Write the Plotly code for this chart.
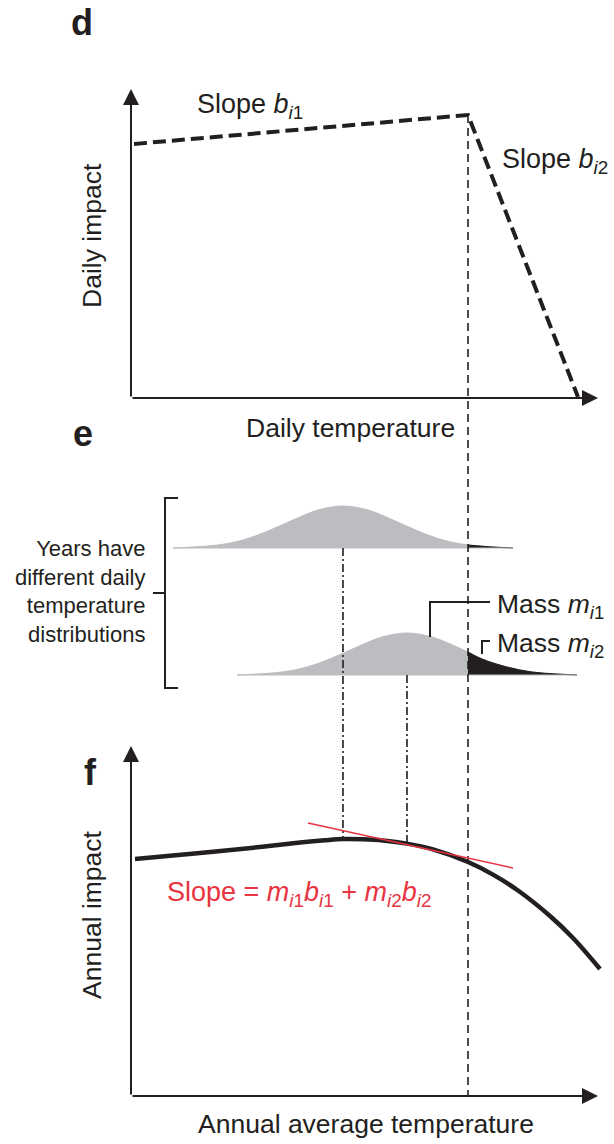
import plotly.graph_objects as go

# ---------------- data (chart units) ----------------
# Panel d: piecewise-linear daily impact function
daily_temp = [134, 468, 578]
daily_impact = [144, 115, 397]

# Panel e: two daily temperature distributions (x position, height above baseline)
dist1_x = [173, 193, 218, 243, 268, 293, 318, 343, 368, 393, 418, 443, 468, 493, 513]
dist1_h = [0, 1, 3, 8, 17, 28, 38, 42, 38, 28, 17, 8, 3, 1, 0]
dist1_base = 548
dist2_x = [237, 257, 282, 307, 332, 357, 382, 407, 432, 457, 468, 482, 507, 532, 557, 577]
dist2_h = [0, 1, 3, 8, 17, 28, 38, 42, 38, 28, 23, 16, 8, 3, 1, 0]
dist2_base = 675
threshold = 468
dist1_mean, dist2_mean = 343, 407

# Panel f: annual impact curve and tangent
annual_temp = [135, 200, 260, 300, 325, 343, 363, 383, 407, 433, 468, 493, 518, 550, 573, 600]
annual_impact = [859, 853, 847, 842.5, 840.2, 839, 839.3, 840.5, 843.6, 849.4, 862, 874.6, 890.5, 916, 938, 969]
tangent_x = [308, 513]
tangent_y = [823, 868]

# Axes of the three panels
d_axis = dict(x0=131, y0=398, xtip=598, ytip=89)
f_axis = dict(x0=131, y0=1096, xtip=598, ytip=746)

INK = "#231f20"
GRAY = "#bcbdc0"
RED = "#e8343f"
FONT = "Liberation Sans, Arial, sans-serif"

fig = go.Figure()

def line(x, y, color=INK, width=2, dash="solid", shape="linear"):
    fig.add_trace(go.Scatter(x=x, y=y, mode="lines", hoverinfo="skip",
                             line=dict(color=color, width=width, dash=dash, shape=shape)))

# ---- distributions (panel e) ----
def dist(xs, hs, base):
    ys = [base - h for h in hs]
    fig.add_trace(go.Scatter(x=[xs[0], xs[-1]], y=[base, base], mode="lines",
                             line=dict(width=0), hoverinfo="skip"))
    fig.add_trace(go.Scatter(x=xs, y=ys, mode="lines", fill="tonexty", fillcolor=GRAY,
                             line=dict(color=GRAY, width=1, shape="spline", smoothing=1.0),
                             hoverinfo="skip"))
    tx = [x for x in xs if x >= threshold]
    ty = [base - h for x, h in zip(xs, hs) if x >= threshold]
    fig.add_trace(go.Scatter(x=[tx[0], tx[-1]], y=[base, base], mode="lines",
                             line=dict(width=0), hoverinfo="skip"))
    fig.add_trace(go.Scatter(x=tx, y=ty, mode="lines", fill="tonexty", fillcolor=INK,
                             line=dict(color=INK, width=1, shape="spline", smoothing=1.0),
                             hoverinfo="skip"))
    line([xs[0], xs[-1]], [base, base], color=GRAY, width=1)

dist(dist1_x, dist1_h, dist1_base)
dist(dist2_x, dist2_h, dist2_base)

# ---- vertical guide lines ----
line([threshold, threshold], [daily_impact[1], f_axis["y0"]], width=1.6, dash="8px,5px")
line([dist1_mean, dist1_mean], [dist1_base, 839], width=1.6, dash="8px,3px,2px,3px")
line([dist2_mean, dist2_mean], [dist2_base, 843], width=1.6, dash="8px,3px,2px,3px")

# ---- panel d: daily impact function ----
line(daily_temp, daily_impact, width=4, dash="13px,6px")

# ---- panel f: annual impact curve + tangent ----
line(annual_temp, annual_impact, width=4.5, shape="spline")
line(tangent_x, tangent_y, color=RED, width=1.5)

# ---- bracket and leaders ----
line([178, 165, 165, 178], [498, 498, 688, 688], width=2)
line([153, 165], [593, 593], width=2)
line([430, 430, 490], [637, 602, 602], width=2)
line([482, 482, 490], [654, 641, 641], width=2)

# ---- axes with arrows ----
for ax in (d_axis, f_axis):
    for (tx, ty) in ((ax["x0"], ax["ytip"]), (ax["xtip"], ax["y0"])):
        fig.add_annotation(x=tx, y=ty, ax=ax["x0"], ay=ax["y0"], axref="x", ayref="y",
                           xref="x", yref="y", text="", showarrow=True, arrowhead=2,
                           arrowsize=1.6, arrowwidth=2, arrowcolor=INK, standoff=0)

def txt(x, y, s, size=27, color=INK, xanchor="left", angle=0, align="left"):
    fig.add_annotation(x=x, y=y, text=s, showarrow=False, xanchor=xanchor, yanchor="middle",
                       textangle=angle, align=align,
                       font=dict(family=FONT, size=size, color=color))

# panel letters
txt(82, 22, "<b>d</b>", size=36, xanchor="center")
txt(83, 433, "<b>e</b>", size=36, xanchor="center")
txt(90, 772, "<b>f</b>", size=36, xanchor="center")

# panel d labels
txt(195, 106, "Slope <i>b</i><sub><i>i</i>1</sub>")
txt(500, 161, "Slope <i>b</i><sub><i>i</i>2</sub>")
txt(92, 236, "Daily impact", size=26.5, xanchor="center", angle=-90)
txt(350, 428, "Daily temperature", size=26.5, xanchor="center")

# panel e labels
txt(147, 591, "Years have<br>different daily<br>temperature<br>distributions",
    size=22, xanchor="right", align="right")
txt(495, 606, "Mass <i>m</i><sub><i>i</i>1</sub>", size=26.5)
txt(495, 645, "Mass <i>m</i><sub><i>i</i>2</sub>", size=26.5)

# panel f labels
txt(165, 894, "Slope = <i>m</i><sub><i>i</i>1</sub><i>b</i><sub><i>i</i>1</sub> + "
    "<i>m</i><sub><i>i</i>2</sub><i>b</i><sub><i>i</i>2</sub>", color=RED)
txt(92, 915, "Annual impact", size=26.5, xanchor="center", angle=-90)
txt(366, 1124, "Annual average temperature", size=26.5, xanchor="center")

fig.update_layout(
    width=614, height=1144, margin=dict(l=0, r=0, t=0, b=0),
    paper_bgcolor="white", plot_bgcolor="white", showlegend=False,
    xaxis=dict(range=[0, 614], visible=False, fixedrange=True),
    yaxis=dict(range=[1144, 0], visible=False, fixedrange=True),
)

fig.write_html("out.html", config={"displayModeBar": False},
               post_script="document.body.style.margin='0px';")
